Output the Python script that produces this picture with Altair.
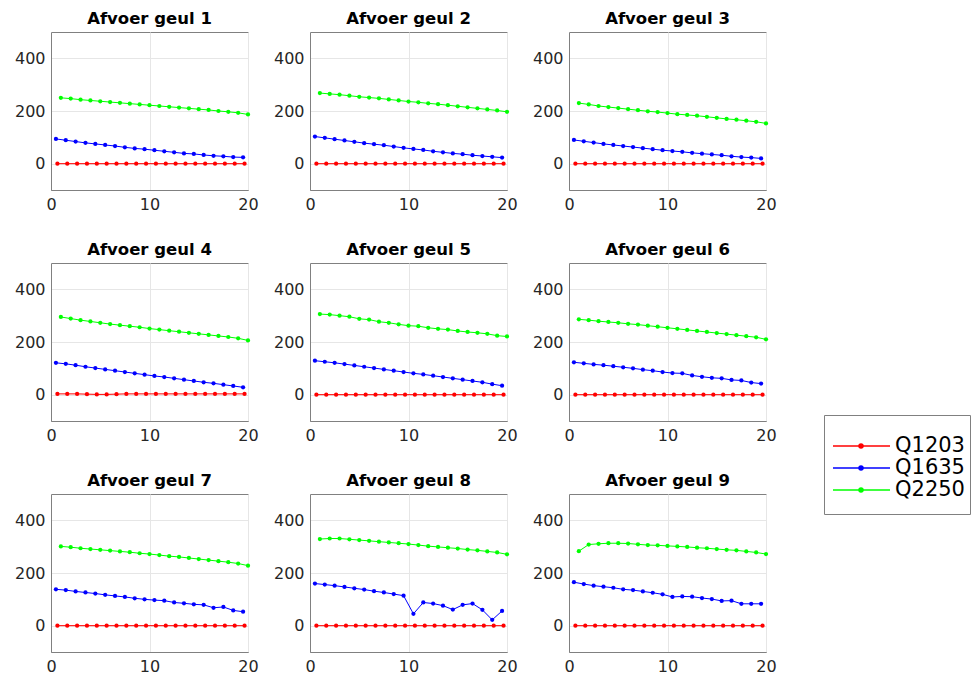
import altair as alt
import pandas as pd

SERIES = ["Q1203", "Q1635", "Q2250"]
COLORS = ["#ff0000", "#0000ff", "#00ff00"]
PANEL_TITLES = ["Afvoer geul 1", "Afvoer geul 2", "Afvoer geul 3",
                "Afvoer geul 4", "Afvoer geul 5", "Afvoer geul 6",
                "Afvoer geul 7", "Afvoer geul 8", "Afvoer geul 9"]

X_RED = [0.65, 1.65, 2.65, 3.65, 4.65, 5.65, 6.65, 7.65, 8.65, 9.65,
         10.65, 11.65, 12.65, 13.65, 14.65, 15.65, 16.65, 17.65, 18.65, 19.65]
X_BLUE = [0.5, 1.5, 2.5, 3.5, 4.5, 5.5, 6.5, 7.5, 8.5, 9.5,
          10.5, 11.5, 12.5, 13.5, 14.5, 15.5, 16.5, 17.5, 18.5, 19.5]
X_GREEN = [1, 2, 3, 4, 5, 6, 7, 8, 9, 10,
           11, 12, 13, 14, 15, 16, 17, 18, 19, 20]

Q1203 = [
    [0, 0, 0, 0, 0, 0, 0, 0, 0, 0, 0, 0, 0, 0, 0, 0, 0, 0, 0, 0],
    [0, 0, 0, 0, 0, 0, 0, 0, 0, 0, 0, 0, 0, 0, 0, 0, 0, 0, 0, 0],
    [0, 0, 0, 0, 0, 0, 0, 0, 0, 0, 0, 0, 0, 0, 0, 0, 0, 0, 0, 0],
    [3, 3, 3, 2, 1, 1, 2, 3, 3, 3, 3, 3, 3, 3, 3, 3, 3, 3, 3, 3],
    [0, 0, 0, 0, 0, 0, 0, 0, 0, 0, 0, 0, 0, 0, 0, 0, 0, 0, 0, 0],
    [0, 0, 0, 0, 0, 0, 0, 0, 0, 0, 0, 0, 0, 0, 0, 0, 0, 0, 0, 0],
    [0, 0, 0, 0, 0, 0, 0, 0, 0, 0, 0, 0, 0, 0, 0, 0, 0, 0, 0, 0],
    [0, 0, 0, 0, 0, 0, 0, 0, 0, 0, 0, 0, 0, 0, 0, 0, 0, 0, 0, 0],
    [0, 0, 0, 0, 0, 0, 0, 0, 0, 0, 0, 0, 0, 0, 0, 0, 0, 0, 0, 0],
]
Q1635 = [
    [94, 89, 84, 79, 75, 71, 67, 62, 58, 55, 51, 47, 43, 39, 37, 33, 30, 28, 25, 24],
    [103, 98, 93, 88, 83, 78, 74, 70, 65, 60, 56, 52, 47, 43, 39, 36, 32, 29, 26, 23],
    [90, 85, 80, 75, 71, 67, 63, 59, 55, 51, 48, 45, 41, 38, 35, 32, 28, 25, 23, 20],
    [121, 117, 112, 106, 101, 96, 91, 86, 81, 76, 71, 67, 62, 57, 52, 47, 43, 38, 33, 28],
    [129, 125, 121, 116, 111, 106, 101, 96, 91, 86, 81, 77, 72, 67, 62, 57, 52, 47, 40, 34],
    [123, 119, 115, 112, 108, 104, 100, 95, 91, 86, 82, 81, 73, 68, 64, 62, 56, 54, 46, 42],
    [138, 135, 130, 126, 122, 117, 113, 109, 104, 100, 97, 95, 88, 85, 81, 79, 68, 71, 58, 53],
    [160, 156, 152, 147, 142, 137, 131, 126, 120, 114, 45, 88, 84, 76, 61, 79, 84, 60, 22, 56],
    [165, 158, 152, 148, 144, 138, 135, 130, 125, 119, 109, 111, 110, 105, 101, 94, 95, 83, 83, 83],
]
Q2250 = [
    [250, 247, 243, 240, 237, 234, 231, 228, 225, 222, 219, 216, 213, 210, 207, 204, 200, 197, 193, 187],
    [268, 265, 262, 258, 254, 251, 248, 244, 240, 236, 233, 229, 226, 222, 218, 214, 210, 206, 202, 197],
    [230, 225, 219, 215, 211, 207, 203, 199, 196, 192, 188, 185, 182, 178, 174, 170, 167, 163, 159, 153],
    [295, 289, 283, 278, 273, 268, 264, 260, 256, 251, 247, 243, 239, 235, 231, 227, 223, 219, 214, 206],
    [306, 304, 300, 296, 288, 285, 277, 273, 267, 262, 260, 254, 250, 247, 242, 238, 235, 231, 224, 221],
    [286, 283, 279, 276, 273, 269, 266, 262, 258, 254, 250, 246, 242, 238, 234, 230, 226, 222, 218, 210],
    [301, 298, 294, 291, 288, 285, 282, 279, 275, 272, 268, 264, 261, 257, 253, 249, 245, 241, 236, 228],
    [329, 331, 331, 328, 325, 322, 319, 316, 313, 310, 306, 302, 299, 296, 293, 289, 286, 282, 278, 271],
    [283, 308, 311, 313, 313, 312, 309, 306, 305, 303, 301, 299, 296, 294, 291, 288, 286, 282, 278, 272],
]

rows = []
for p in range(9):
    for name, xs, vals in ((SERIES[0], X_RED, Q1203[p]),
                           (SERIES[1], X_BLUE, Q1635[p]),
                           (SERIES[2], X_GREEN, Q2250[p])):
        for i, (xv, yv) in enumerate(zip(xs, vals)):
            rows.append({"panel": p + 1, "series": name, "x": xv, "y": yv, "i": i})
df = pd.DataFrame(rows)

FONT = "DejaVu Sans"
color_scale = alt.Scale(domain=SERIES, range=COLORS)

panels = []
for p in range(9):
    c = (
        alt.Chart(df)
        .transform_filter(alt.datum.panel == p + 1)
        .mark_line(strokeWidth=1,
                   point=alt.OverlayMarkDef(filled=True, size=18))
        .encode(
            x=alt.X("x:Q", scale=alt.Scale(domain=[0, 20], nice=False),
                    axis=alt.Axis(values=[0, 10, 20], title=None)),
            y=alt.Y("y:Q", scale=alt.Scale(domain=[-100, 500], nice=False),
                    axis=alt.Axis(values=[0, 200, 400], title=None)),
            color=alt.Color("series:N", scale=color_scale, legend=None),
            order="i:Q",
            detail="series:N",
        )
        .properties(width=197, height=158,
                    title=alt.TitleParams(PANEL_TITLES[p]))
    )
    panels.append(c)

grid = alt.concat(*panels, columns=3,
                  spacing=alt.RowColnumber(row=73, column=62),
                  bounds="flush")

leg_df = pd.DataFrame({"series": SERIES})
ly = alt.Y("series:N", scale=alt.Scale(domain=SERIES, range=[20, 86]), axis=None)
leg_color = alt.Color("series:N", scale=color_scale, legend=None)
leg_rule = alt.Chart(leg_df).mark_rule(strokeWidth=1.3).encode(
    x=alt.value(9), x2=alt.value(66), y=ly, color=leg_color)
leg_pt = alt.Chart(leg_df).mark_point(filled=True, size=30, opacity=1).encode(
    x=alt.value(37), y=ly, color=leg_color)
leg_txt = alt.Chart(leg_df).mark_text(align="left", baseline="middle",
                                      fontSize=21, font=FONT, color="#000000").encode(
    x=alt.value(71), y=ly, text="series:N")
legend = alt.layer(leg_rule, leg_pt, leg_txt).properties(width=146, height=99)

spacer = alt.Chart(leg_df).mark_point(opacity=0).encode(
    x=alt.value(0), y=alt.value(0)
).properties(width=146, height=383,
             view=alt.ViewBackground(stroke="transparent"))

legend_col = alt.vconcat(spacer, legend, spacing=0, bounds="flush")

chart = (
    alt.hconcat(grid, legend_col, spacing=43)
    .properties(padding={"left": 5, "top": 2, "right": 0, "bottom": 0})
    .configure(font=FONT)
    .configure_view(stroke="#808080", strokeWidth=1)
    .configure_axis(
        labelFont=FONT, labelFontSize=16, labelColor="#262626",
        labelFlush=False, labelPadding=6,
        ticks=False, domainColor="#808080", domainWidth=1,
        grid=True, gridColor="#e6e6e6", gridWidth=1,
    )
    .configure_title(font=FONT, fontSize=16.5, fontWeight="bold",
                     color="#000000", offset=5)
)

chart.save("out.html", embed_options={"renderer": "svg", "actions": False})
